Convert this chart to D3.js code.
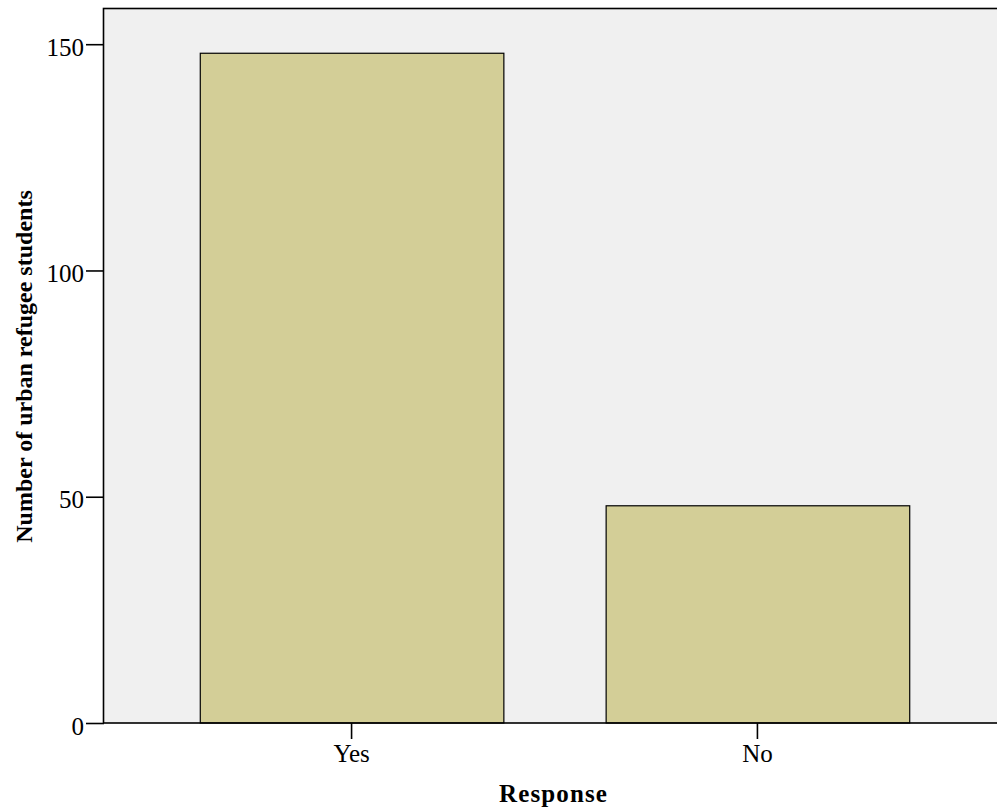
<!DOCTYPE html>
<html>
<head>
<meta charset="utf-8">
<script src="https://cdn.jsdelivr.net/npm/d3@7"></script>
<style>
  html, body { margin: 0; padding: 0; background: #ffffff; }
  svg { display: block; }
  text { font-family: "Liberation Serif", "Times New Roman", serif; fill: #000; }
</style>
</head>
<body>
<svg id="chart" width="997" height="809"></svg>
<script>
const categories = ["Yes", "No"];
const counts = [148, 48];
const yTicks = [0, 50, 100, 150];
const yTitle = "Number of urban refugee students";
const xTitle = "Response";

const svg = d3.select("#chart");
const pLeft = 104, pTop = 8, pRight = 1005, pBottom = 723;

const x = d3.scaleBand().domain(categories).range([pLeft, pRight])
  .paddingInner(0.252).paddingOuter(0.236);
const y = d3.scaleLinear().domain([0, 158]).range([pBottom, pTop]);

// plot background
svg.append("rect")
  .attr("x", pLeft).attr("y", pTop)
  .attr("width", pRight - pLeft).attr("height", pBottom - pTop)
  .attr("fill", "#f0f0f0");

// bars
svg.selectAll("rect.bar").data(categories).enter().append("rect")
  .attr("class", "bar")
  .attr("x", d => x(d) + 0.5)
  .attr("y", (d, i) => y(counts[i]))
  .attr("width", x.bandwidth())
  .attr("height", (d, i) => y(0) - y(counts[i]))
  .attr("fill", "#d3ce97")
  .attr("stroke", "#000")
  .attr("stroke-width", 1.2);

// plot frame
svg.append("rect")
  .attr("x", pLeft - 0.5).attr("y", pTop + 0.5)
  .attr("width", pRight - pLeft + 1).attr("height", pBottom - pTop - 0.5)
  .attr("fill", "none")
  .attr("stroke", "#000")
  .attr("stroke-width", 1.6);

// y axis
const yAxis = svg.append("g")
  .attr("transform", `translate(${pLeft},0)`)
  .call(d3.axisLeft(y).tickValues(yTicks).tickSize(18).tickPadding(2).tickFormat(d3.format("d")));
yAxis.select(".domain").remove();
yAxis.selectAll(".tick line").attr("stroke", "#000").attr("stroke-width", 1.6);
yAxis.selectAll(".tick text")
  .attr("font-size", 25)
  .attr("font-family", "'Liberation Serif', 'Times New Roman', serif")
  .attr("dy", "0.45em")
  .attr("fill", "#000");

// x axis
const xAxis = svg.append("g")
  .attr("transform", `translate(0,${pBottom})`)
  .call(d3.axisBottom(x).tickSize(16).tickPadding(5));
xAxis.select(".domain").remove();
xAxis.selectAll(".tick line").attr("stroke", "#000").attr("stroke-width", 1.6);
xAxis.selectAll(".tick text")
  .attr("font-size", 25)
  .attr("font-family", "'Liberation Serif', 'Times New Roman', serif")
  .attr("fill", "#000");

// axis titles
svg.append("text")
  .attr("x", (pLeft + pRight) / 2 - 1)
  .attr("y", 801.5)
  .attr("text-anchor", "middle")
  .attr("font-size", 25)
  .attr("font-weight", "bold")
  .attr("letter-spacing", 1.1)
  .text(xTitle);

svg.append("text")
  .attr("transform", `translate(32,366.5) rotate(-90)`)
  .attr("text-anchor", "middle")
  .attr("font-size", 24)
  .attr("font-weight", "bold")
  .text(yTitle);
</script>
</body>
</html>
